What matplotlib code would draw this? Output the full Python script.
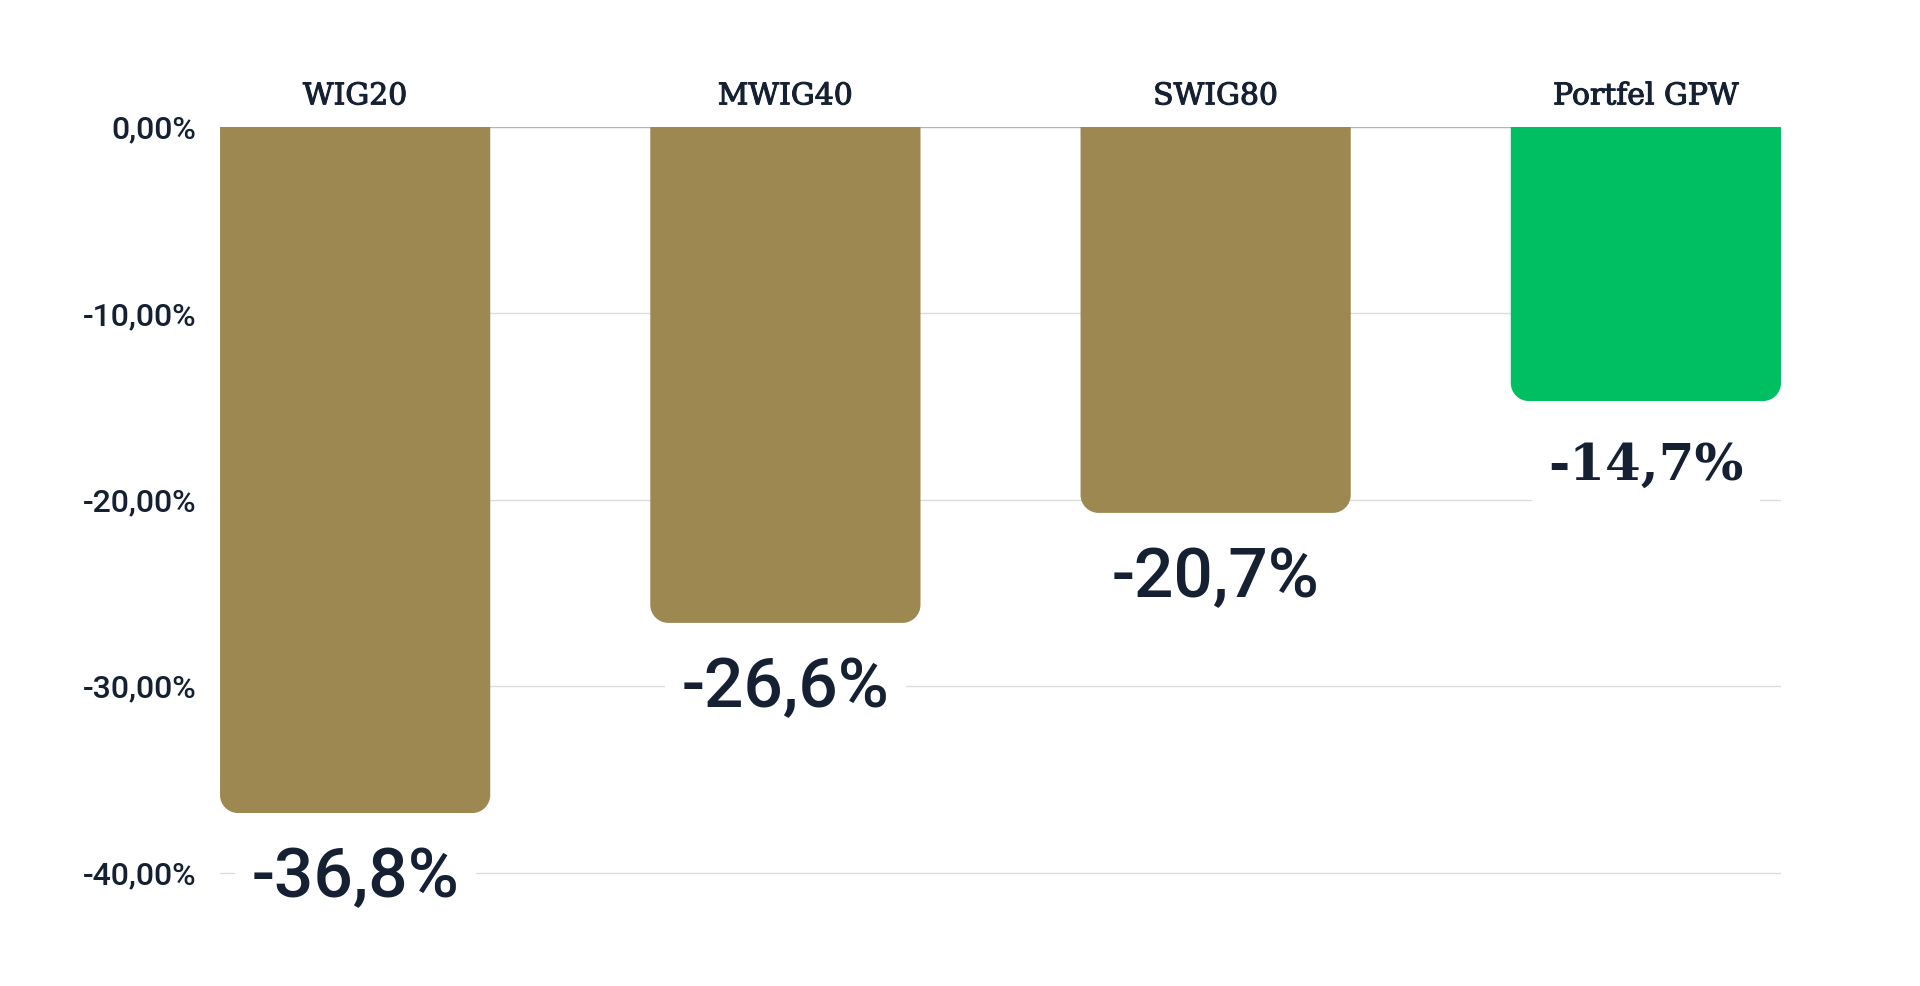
import matplotlib.pyplot as plt
import matplotlib.patheffects as pe
from matplotlib.patches import PathPatch
from matplotlib.path import Path
from matplotlib.ticker import FuncFormatter

# data
categories = ["WIG20", "MWIG40", "SWIG80", "Portfel GPW"]
returns = [-36.8, -26.6, -20.7, -14.7]
bar_colors = ["#9E8852", "#9E8852", "#9E8852", "#00BF63"]
value_labels = ["-36,8%", "-26,6%", "-20,7%", "-14,7%"]
yticks = [0, -10, -20, -30, -40]

text_color = "#152032"
bar_width = 0.628
ymin, ymax = -42.0, 0.0

fig = plt.figure(figsize=(19.2, 9.86), dpi=100)
fig.set_facecolor("white")
ax = fig.add_axes([0.1146, 0.0771, 0.8130, 0.7941])

x = list(range(len(categories)))
ax.set_xlim(-bar_width / 2, x[-1] + bar_width / 2)
ax.set_ylim(ymin, ymax)

# corner radius: same number of pixels in x and y
bbox = ax.get_window_extent()
x_per_px = (ax.get_xlim()[1] - ax.get_xlim()[0]) / bbox.width
y_per_px = (ymax - ymin) / bbox.height
radius_px = 18
rx = radius_px * x_per_px
ry = radius_px * y_per_px
k = 0.5523


def rounded_bottom(rect):
    # bar path with square top and rounded bottom corners
    x0, y0 = rect.get_x(), rect.get_y()
    x1, y1 = x0 + rect.get_width(), y0 + rect.get_height()
    verts = [
        (x0, y0), (x0, y1 + ry),
        (x0, y1 + ry * (1 - k)), (x0 + rx * (1 - k), y1), (x0 + rx, y1),
        (x1 - rx, y1),
        (x1 - rx * (1 - k), y1), (x1, y1 + ry * (1 - k)), (x1, y1 + ry),
        (x1, y0), (x0, y0),
    ]
    codes = [Path.MOVETO, Path.LINETO,
             Path.CURVE4, Path.CURVE4, Path.CURVE4,
             Path.LINETO,
             Path.CURVE4, Path.CURVE4, Path.CURVE4,
             Path.LINETO, Path.CLOSEPOLY]
    return Path(verts, codes)


bars = ax.bar(x, returns, width=bar_width, color=bar_colors, linewidth=0, zorder=3)
for rect in bars:
    patch = PathPatch(rounded_bottom(rect), facecolor=rect.get_facecolor(),
                      edgecolor="none", linewidth=0, zorder=3)
    ax.add_patch(patch)
    rect.set_visible(False)

# gridlines
for t in yticks:
    col = "#B5B5B5" if t == 0 else "#DCDCDC"
    ax.axhline(t, color=col, linewidth=1.0, zorder=1)

# value labels under bars
for i, (xi, v, lab) in enumerate(zip(x, returns, value_labels)):
    if i == 3:
        fam, wt, size = "DejaVu Serif", "bold", 37
    else:
        fam, wt, size = "Roboto", "medium", 50
    ax.text(xi, v - 3.5, lab, ha="center", va="center", fontsize=size,
            family=fam, fontweight=wt, color=text_color, zorder=5,
            bbox=dict(facecolor="white", edgecolor="none", pad=12))

ax.set_yticks(yticks)
ax.yaxis.set_major_formatter(FuncFormatter(lambda v, p: f"{v:.2f}%".replace(".", ",")))
ax.tick_params(axis="y", length=0, pad=17, labelsize=23, labelcolor=text_color)
for lab in ax.get_yticklabels():
    lab.set_family("Roboto")
    lab.set_fontweight("medium")

ax.set_xticks(x)
ax.set_xticklabels(categories, family="DejaVu Serif", fontsize=21.5, color=text_color)
ax.tick_params(axis="x", length=0, pad=12, labeltop=True, labelbottom=False)
for lab in ax.get_xticklabels():
    lab.set_path_effects([pe.withStroke(linewidth=0.8, foreground=text_color)])

for s in ax.spines.values():
    s.set_visible(False)

fig.savefig("out.png", dpi=100, facecolor="white")
